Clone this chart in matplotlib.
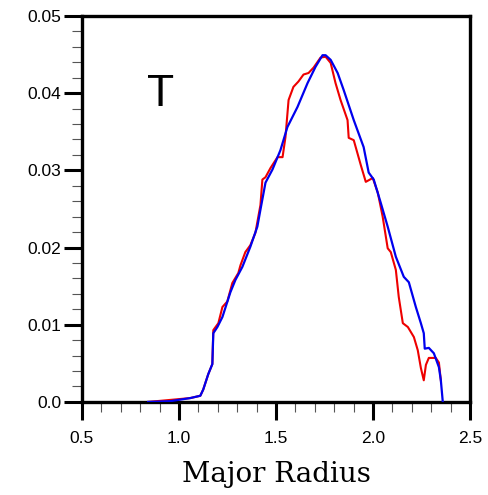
import numpy as np
import matplotlib
matplotlib.use("Agg")
import matplotlib.pyplot as plt
from matplotlib.ticker import MultipleLocator

# ── Data ─────────────────────────────────────────────────────────────────────
red_r = [0.841, 1.058, 1.110, 1.125, 1.151, 1.172, 1.177, 1.203, 1.224, 1.249,
         1.275, 1.306, 1.317, 1.342, 1.368, 1.394, 1.420, 1.430, 1.446, 1.472,
         1.508, 1.534, 1.549, 1.565, 1.590, 1.616, 1.642, 1.668, 1.694, 1.730,
         1.756, 1.782, 1.807, 1.833, 1.869, 1.875, 1.901, 1.937, 1.963, 1.999,
         2.025, 2.050, 2.076, 2.092, 2.118, 2.133, 2.154, 2.180, 2.211, 2.231,
         2.247, 2.262, 2.273, 2.288, 2.324, 2.340, 2.350]
red_t = [0.0, 0.0005, 0.0008, 0.0016, 0.0036, 0.0049, 0.0093, 0.0102, 0.0123, 0.0130,
         0.0154, 0.0167, 0.0177, 0.0194, 0.0203, 0.0219, 0.0255, 0.0288, 0.0291, 0.0303,
         0.0317, 0.0317, 0.0343, 0.0391, 0.0408, 0.0415, 0.0424, 0.0426, 0.0433, 0.0446,
         0.0447, 0.0439, 0.0413, 0.0391, 0.0365, 0.0342, 0.0339, 0.0307, 0.0285, 0.0290,
         0.0271, 0.0240, 0.0199, 0.0194, 0.0171, 0.0136, 0.0102, 0.0097, 0.0084, 0.0067,
         0.0044, 0.0028, 0.0048, 0.0057, 0.0057, 0.0051, 0.0028]

blue_r = [0.841, 0.955, 1.058, 1.110, 1.125, 1.151, 1.172, 1.177, 1.198, 1.224,
          1.265, 1.291, 1.327, 1.368, 1.404, 1.420, 1.446, 1.482, 1.523, 1.559,
          1.611, 1.663, 1.704, 1.740, 1.756, 1.782, 1.818, 1.849, 1.901, 1.952,
          1.978, 2.004, 2.040, 2.076, 2.118, 2.159, 2.185, 2.221, 2.247, 2.262,
          2.267, 2.288, 2.314, 2.340, 2.350, 2.360]
blue_t = [0.0, 0.0001, 0.0005, 0.0008, 0.0016, 0.0036, 0.0049, 0.0089, 0.0097, 0.0110,
          0.0142, 0.0158, 0.0175, 0.0201, 0.0227, 0.0249, 0.0284, 0.0301, 0.0326, 0.0356,
          0.0382, 0.0413, 0.0434, 0.0449, 0.0449, 0.0443, 0.0426, 0.0404, 0.0365, 0.0330,
          0.0297, 0.0288, 0.0258, 0.0227, 0.0188, 0.0162, 0.0155, 0.0123, 0.0102, 0.0089,
          0.0069, 0.0070, 0.0063, 0.0045, 0.0028, 0.0]

x_ticks = [0.5, 1.0, 1.5, 2.0, 2.5]
y_ticks = [0.0, 0.01, 0.02, 0.03, 0.04, 0.05]

# ── Figure ───────────────────────────────────────────────────────────────────
fig = plt.figure(figsize=(4.88, 4.95), dpi=100)
ax = fig.add_axes([0.168, 0.188, 0.795, 0.780])

ax.plot(red_r, red_t, color="#ee0000", lw=1.5, zorder=3)
ax.plot(blue_r, blue_t, color="#0000ee", lw=1.6, zorder=4)

ax.set_xlim(0.5, 2.5)
ax.set_ylim(0.0, 0.05)
ax.set_xticks(x_ticks)
ax.set_xticklabels([f"{v:.1f}" for v in x_ticks])
ax.set_yticks(y_ticks)
ax.set_yticklabels([f"{v:.2f}" if v else "0.0" for v in y_ticks])
ax.xaxis.set_minor_locator(MultipleLocator(0.1))
ax.yaxis.set_minor_locator(MultipleLocator(0.002))

for s in ax.spines.values():
    s.set_linewidth(2.4)
ax.tick_params(which="major", direction="out", length=13, width=2.2,
               labelsize=12.5, top=False, right=False)
ax.tick_params(axis="x", which="major", pad=8)
ax.tick_params(axis="y", which="major", pad=2)
ax.tick_params(which="minor", direction="out", length=7, width=0.8,
               color="#555555", top=False, right=False)
for lab in ax.get_xticklabels() + ax.get_yticklabels():
    lab.set_family("Liberation Sans")

ax.set_xlabel("Major Radius", family="DejaVu Serif", fontsize=20,
              fontweight="medium", labelpad=11)
ax.text(0.903, 0.0398, "T", family="Liberation Sans", fontsize=32,
        ha="center", va="center")

fig.savefig("out.png", dpi=100)
